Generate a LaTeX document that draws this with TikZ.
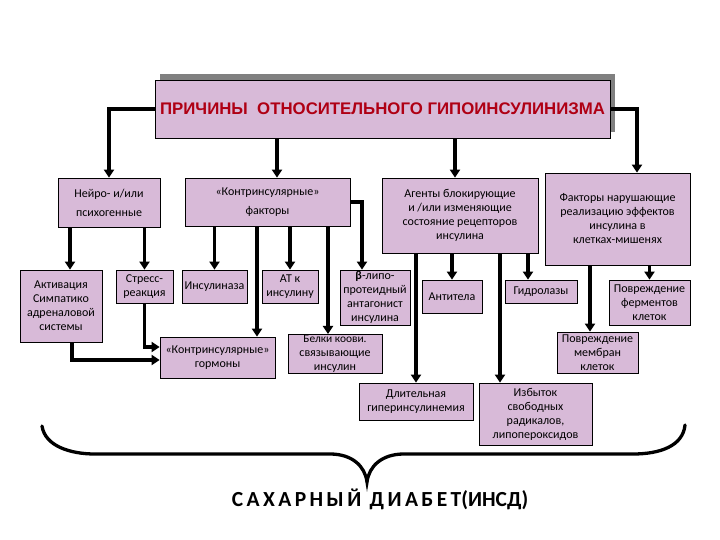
\documentclass[tikz,border=0pt]{standalone}
\usepackage{fontspec}
\setmainfont{Carlito}
\newfontfamily\titlefont{Liberation Sans}
\newfontfamily\bigfont[LetterSpace=16]{Carlito}
\usetikzlibrary{arrows.meta,calc,shadows}
\definecolor{boxfill}{RGB}{216,186,216}
\definecolor{titlered}{RGB}{175,0,20}
\definecolor{shadegray}{RGB}{128,128,128}
\newcommand\mybox[6]{%
  \node[box, minimum width={#4-#2}, minimum height={#5-#3}] (#1) at ({(#2+#4)/2},{(#3+#5)/2}) {#6};}
\begin{document}
\begin{tikzpicture}[x=1pt,y=-1pt,
  box/.style={draw=black, line width=0.8pt, fill=boxfill, inner sep=1pt, align=center,
    font=\fontsize{12}{14}\selectfont},
  titlebox/.style={box, drop shadow={shadow xshift=5pt, shadow yshift=6pt, fill=shadegray, opacity=1},
    font=\titlefont\bfseries\fontsize{16.8}{19}\selectfont, text=titlered},
  arr/.style={line width=3.3pt, -{Triangle[width=10pt,length=8pt]}},
  brace/.style={line width=3.3pt, line cap=round}]
\useasboundingbox (0,0) rectangle (720,540);

% helper columns / rows
\coordinate (x70) at (70,0);
\coordinate (x72) at (72,0);
\coordinate (x257) at (257,0);
\coordinate (x277) at (277,0);
\coordinate (x328) at (328,0);
\coordinate (x362) at (362,0);
\coordinate (x455) at (455,0);
\coordinate (x500) at (500,0);
\coordinate (x528) at (528,0);
\coordinate (x590) at (590,0);
\coordinate (x637) at (637,0);
\coordinate (y347) at (0,347);
\coordinate (y360) at (0,360);

\node[titlebox, minimum width=455, minimum height=58] (title) at (382.5,109)
  {ПРИЧИНЫ \ ОТНОСИТЕЛЬНОГО ГИПОИНСУЛИНИЗМА};

\mybox{neuro}{58}{178}{160}{227}{Нейро- и/или\\[5pt]психогенные}
\mybox{kfactors}{185}{178}{350}{226}{«Контринсулярные»\\[5pt]факторы}
\mybox{agents}{382}{178}{538}{253}{Агенты блокирующие\\и /или изменяющие\\состояние рецепторов\\инсулина}
\mybox{factors}{545}{173}{690}{265}{Факторы нарушающие\\реализацию эффектов\\инсулина в\\клетках-мишенях}
\mybox{activ}{20}{270}{102}{342}{Активация\\Симпатико\\адреналовой\\системы}
\mybox{stress}{116}{270}{173}{303}{Стресс-\\реакция}
\mybox{insulinase}{182}{270}{247}{303}{Инсулиназа}
\mybox{AT}{262}{270}{318}{303}{АТ к\\инсулину}
\mybox{beta}{340}{270}{410}{325}{\textbf{β}-липо-\\протеидный\\антагонист\\инсулина}
\mybox{antitela}{422}{280}{482}{313}{Антитела}
\mybox{hydro}{505}{280}{577}{303}{Гидролазы}
\mybox{povferm}{609}{280}{690}{325}{Повреждение\\ферментов\\клеток}
\mybox{povmemb}{557}{332}{638}{373}{\fontsize{12}{12.5}\selectfont Повреждение\\мембран\\клеток}
\mybox{khormony}{160}{337}{275}{378}{«Контринсулярные»\\гормоны}
\mybox{belki}{288}{335}{382}{373}{\fontsize{11.4}{11.8}\selectfont Белки коови.\\связывающие\\инсулин}
\mybox{dlit}{359}{383}{473}{420}{Длительная\\гиперинсулинемия}
\mybox{izbytok}{479}{383}{592}{445}{Избыток\\свободных\\радикалов,\\липопероксидов}

% connectors from title
\draw[arr] (title.west) -| (neuro.north);
\draw[arr] (title.south -| x277) -- (kfactors.north -| x277);
\draw[arr] (title.south -| x455) -- (agents.north -| x455);
\draw[arr] (title.east) -| (factors.north -| x637);
% from neuro
\draw[arr] (neuro.south -| x70) -- (activ.north -| x70);
\draw[arr] (neuro.south -| stress.north) -- (stress.north);
% from kfactors
\draw[arr] (kfactors.south -| insulinase.north) -- (insulinase.north);
\draw[arr] (kfactors.south -| x257) -- (khormony.north -| x257);
\draw[arr] (kfactors.south -| AT.north) -- (AT.north);
\draw[arr] (kfactors.south -| x328) -- (belki.north -| x328);
\draw[arr] (kfactors.east) -| (beta.north -| x362);
% from agents
\draw[arr] (agents.south -| dlit.north) -- (dlit.north);
\draw[arr] (agents.south -| antitela.north) -- (antitela.north);
\draw[arr] (agents.south -| x500) -- (izbytok.north -| x500);
\draw[arr] (agents.south -| x528) -- (hydro.north -| x528);
% from factors
\draw[arr] (factors.south -| x590) -- (povmemb.north -| x590);
\draw[arr] (factors.south -| povferm.north) -- (povferm.north);
% into hormones
\draw[arr] (stress.south) |- (khormony.west |- y347);
\draw[arr] (activ.south -| x72) |- (khormony.west |- y360);

% brace
\draw[brace] (42,426) .. controls (45,446) and (70,454) .. (95,454) -- (330,454)
  .. controls (352,454) and (365,466) .. (367,482)
  .. controls (369,466) and (382,454) .. (404,454) -- (633,454)
  .. controls (660,454) and (683,446) .. (685,425);

\node[font=\bigfont\bfseries\fontsize{21.5}{25}\selectfont, inner sep=0pt] (diab) at (380,499)
  {САХАРНЫЙ ДИАБЕТ{\addfontfeature{LetterSpace=0}(ИНСД)}};
\end{tikzpicture}
\end{document}
